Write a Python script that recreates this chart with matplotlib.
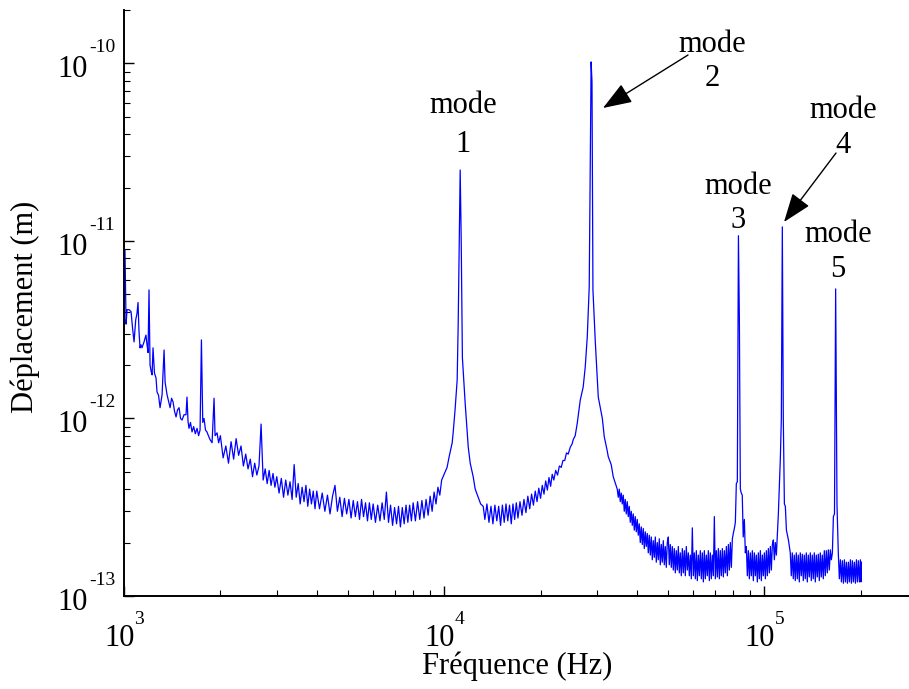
import numpy as np
import matplotlib
matplotlib.use("Agg")
import matplotlib.pyplot as plt
from matplotlib.ticker import LogLocator, NullFormatter

plt.rcParams['font.family'] = ['Liberation Serif', 'DejaVu Serif']

# ---- data (frequency in Hz, displacement in pm) ----
freq_low = [1000, 1007, 1015, 1022, 1037, 1052, 1064, 1075, 1088, 1098,
            1106, 1114, 1122, 1130, 1138, 1155, 1171, 1180, 1189, 1197,
            1206, 1215, 1224, 1232, 1245, 1259, 1268, 1282, 1296, 1315,
            1334, 1344, 1363, 1378, 1393, 1408, 1423, 1438, 1454, 1470,
            1486, 1502, 1518, 1540, 1562, 1573, 1585, 1596, 1613, 1631,
            1650, 1670, 1691, 1710, 1728, 1745, 1762, 1778, 1797, 1816,
            1830, 1857, 1884, 1911, 1925, 1953, 1975]
disp_low = [3.6, 8.9, 3.4, 4.1, 4.1, 4.0, 3.2, 2.7, 3.6, 3.9,
            4.5, 3.1, 2.5, 2.6, 2.5, 2.7, 2.95, 2.6, 2.35, 5.3,
            2.0, 1.85, 1.76, 2.5, 1.8, 1.69, 1.41, 1.35, 1.15, 1.36,
            2.43, 1.6, 1.36, 1.25, 1.15, 1.3, 1.24, 1.1, 1.02, 1.12,
            1.15, 1.0, 0.98, 1.05, 1.05, 1.32, 0.96, 0.88, 0.95, 0.84,
            0.90, 0.82, 0.88, 0.80, 0.86, 2.77, 0.95, 1.0, 0.86, 0.84,
            0.81, 0.76, 0.73, 1.3, 0.80, 0.83, 0.73]

freq_2k = [2000, 2040, 2080, 2120, 2160, 2200, 2240, 2280, 2320, 2360,
           2400, 2440, 2480, 2520, 2560, 2600, 2640, 2680, 2720, 2760,
           2800, 2840, 2880, 2920, 2960]
disp_2k = [0.80, 0.60, 0.70, 0.56, 0.74, 0.59, 0.77, 0.62, 0.70, 0.54,
           0.63, 0.52, 0.59, 0.47, 0.56, 0.48, 0.54, 0.93, 0.45, 0.52,
           0.43, 0.51, 0.42, 0.49, 0.41]

freq_3k = [3000, 3050, 3100, 3150, 3200, 3250, 3300, 3350, 3400, 3450,
           3500, 3550, 3600, 3650, 3700, 3750, 3800, 3850, 3900, 3950]
disp_3k = [0.47, 0.38, 0.46, 0.36, 0.45, 0.37, 0.44, 0.35, 0.55, 0.36,
           0.43, 0.33, 0.41, 0.34, 0.42, 0.32, 0.40, 0.33, 0.39, 0.31]

freq_4k = [4000, 4080, 4160, 4240, 4320, 4400, 4480, 4560, 4640, 4720,
           4800, 4880, 4960, 5040, 5120, 5200, 5280, 5360, 5440, 5520,
           5600, 5680, 5760, 5840, 5920]
disp_4k = [0.39, 0.31, 0.38, 0.30, 0.37, 0.29, 0.365, 0.42, 0.30, 0.36,
           0.28, 0.355, 0.29, 0.35, 0.275, 0.345, 0.28, 0.34, 0.27, 0.35,
           0.28, 0.335, 0.265, 0.335, 0.27]

freq_6k = [6000, 6100, 6200, 6300, 6400, 6500, 6600, 6700, 6800, 6900,
           7000, 7100, 7200, 7300, 7400, 7500, 7600, 7700, 7800, 7900]
disp_6k = [0.33, 0.26, 0.325, 0.265, 0.335, 0.27, 0.385, 0.26, 0.325, 0.25,
           0.315, 0.255, 0.32, 0.245, 0.315, 0.255, 0.325, 0.26, 0.325, 0.265]

freq_8k = [8000, 8130, 8260, 8390, 8520, 8650, 8780, 8910, 9040, 9170,
           9300, 9430, 9560, 9690, 9820]
disp_8k = [0.335, 0.265, 0.34, 0.27, 0.345, 0.275, 0.35, 0.285, 0.365, 0.30,
           0.385, 0.33, 0.41, 0.37, 0.45]

freq_mode1 = [10210, 10366, 10593, 10666, 10815, 10980, 11060, 11220, 11300,
              11400, 11630, 11890, 12060, 12320, 12500, 12770, 13000, 13240]
disp_mode1 = [0.53, 0.61, 0.73, 0.83, 1.12, 1.65, 3.4, 25.1, 10.5,
              2.2, 1.22, 0.69, 0.56, 0.47, 0.40, 0.36, 0.33, 0.32]

freq_gap = [13400, 13600, 13800, 14000, 14200, 14400, 14600, 14800, 15000, 15200,
            15400, 15600, 15800, 16000, 16200, 16400, 16600, 16800,
            17000, 17250, 17500, 17750, 18000, 18250, 18500, 18750, 19000, 19250,
            19500, 19750, 20000, 20250, 20500, 20750, 21000, 21250, 21500, 21750,
            22000, 22300, 22600, 22900, 23200, 23500, 23800, 24100, 24400, 24770,
            25100, 25300, 25660, 26040, 26610, 27170, 27580, 27990]
disp_gap = [0.27, 0.33, 0.26, 0.32, 0.255, 0.325, 0.265, 0.32, 0.25, 0.325,
            0.26, 0.33, 0.265, 0.325, 0.255, 0.33, 0.27, 0.335,
            0.275, 0.34, 0.285, 0.35, 0.295, 0.365, 0.31, 0.375, 0.325, 0.39,
            0.34, 0.405, 0.355, 0.42, 0.375, 0.445, 0.395, 0.465, 0.415, 0.485,
            0.45, 0.51, 0.48, 0.54, 0.53, 0.58, 0.58, 0.64, 0.63, 0.69,
            0.72, 0.76, 0.80, 0.94, 1.27, 1.5, 1.95, 2.9]

freq_mode2 = [28380, 28770, 28950, 29150, 29650, 30000, 30290, 31190, 31620,
              32290, 32540, 33240, 33730, 34720]
disp_mode2 = [5.5, 102, 79, 5.3, 2.7, 1.8, 1.32, 1.0, 0.79,
              0.66, 0.61, 0.55, 0.47, 0.40]

freq_hf1 = [34972, 35223, 35479, 35734, 35993, 36252, 36515, 36777, 37044, 37311,
            37582, 37852, 38127, 38401, 38680, 38958, 39241, 39523, 39810, 40096,
            40387, 40677, 40972, 41267, 41566, 41865, 42169, 42472, 42780, 43088,
            43401, 43713, 44030, 44347, 44669, 44990, 45316, 45642, 45973, 46304,
            46640, 46975, 47316, 47656, 48002, 48347, 48698, 49048, 49404, 49760,
            50120, 50481, 50847, 51213, 51585, 51956, 52333, 52709, 53092, 53474,
            53862, 54249, 54643, 55036, 55435, 55834, 56239, 56643, 57054, 57465,
            57882, 58298, 58721, 59143, 59572, 60001, 60436, 60871, 61313, 61754,
            62202, 62649, 63104, 63558, 64019, 64479, 64947, 65414, 65889, 66363,
            66844, 67325, 67813, 68301, 68796, 69291, 69794, 70296, 70806, 71315,
            71832, 72349, 72874, 73398, 73931, 74463, 75003, 75542, 76090, 76638,
            77194, 77749, 78313, 78876, 79448, 80020, 80600, 81180]
disp_hf1 = [0.36, 0.40, 0.34, 0.38, 0.33, 0.37, 0.30, 0.35, 0.29, 0.34,
            0.28, 0.32, 0.26, 0.30, 0.25, 0.29, 0.235, 0.28, 0.23, 0.27,
            0.22, 0.255, 0.20, 0.245, 0.195, 0.24, 0.185, 0.23, 0.19, 0.225,
            0.175, 0.22, 0.17, 0.215, 0.16, 0.205, 0.165, 0.215, 0.155, 0.20,
            0.16, 0.21, 0.15, 0.195, 0.155, 0.205, 0.15, 0.19, 0.145, 0.20,
            0.215, 0.15, 0.195, 0.145, 0.19, 0.14, 0.185, 0.135, 0.18, 0.14,
            0.19, 0.135, 0.175, 0.13, 0.185, 0.135, 0.18, 0.13, 0.19, 0.14,
            0.175, 0.13, 0.17, 0.125, 0.242, 0.13, 0.175, 0.125, 0.18, 0.122,
            0.17, 0.13, 0.18, 0.125, 0.175, 0.12, 0.18, 0.125, 0.17, 0.13,
            0.18, 0.122, 0.175, 0.125, 0.17, 0.13, 0.28, 0.125, 0.18, 0.128,
            0.185, 0.125, 0.18, 0.13, 0.185, 0.128, 0.18, 0.135, 0.19, 0.13,
            0.195, 0.14, 0.20, 0.145, 0.21, 0.226, 0.24, 0.26]

freq_mode3 = [81750, 82340, 82990, 83560, 84140, 84720, 85310, 85900, 86600, 87220]
disp_mode3 = [0.43, 0.44, 10.7, 3.6, 0.40, 0.38, 0.37, 0.215, 0.27, 0.175]

freq_hf2 = [87852, 88485, 89126, 89768, 90419, 91070, 91730, 92390, 93060, 93730,
            94409, 95089, 95778, 96468, 97167, 97867, 98576, 99286, 100006, 100726,
            101456, 102186, 102927, 103668, 104419, 105171, 105933, 106696, 107469,
            108243, 109028, 109813]
disp_hf2 = [0.19, 0.13, 0.18, 0.125, 0.175, 0.13, 0.18, 0.122, 0.175, 0.13,
            0.17, 0.12, 0.175, 0.125, 0.18, 0.122, 0.17, 0.13, 0.175, 0.125,
            0.18, 0.13, 0.185, 0.135, 0.19, 0.14, 0.195, 0.207, 0.16,
            0.20, 0.17, 0.22]

freq_mode4 = [110600, 112200, 113000, 113800, 114600, 115500, 116300, 117200, 118900, 120500]
disp_mode4 = [0.29, 0.60, 1.0, 12.0, 1.0, 0.33, 0.32, 0.235, 0.207, 0.175]

freq_hf3 = [121374, 122247, 123134, 124020, 124919, 125818, 126730, 127642, 128568, 129493,
            130432, 131371, 132324, 133276, 134242, 135208, 136189, 137169, 138164, 139158,
            140167, 141175, 142199, 143222, 144261, 145299, 146353, 147406, 148475, 149543,
            150627, 151711, 152811, 153911, 155027, 156143, 157275, 158407, 159556, 160704,
            161900, 163100]
disp_hf3 = [0.13, 0.175, 0.125, 0.17, 0.122, 0.175, 0.125, 0.17, 0.12, 0.175,
            0.13, 0.172, 0.122, 0.17, 0.125, 0.175, 0.12, 0.17, 0.128, 0.175,
            0.122, 0.17, 0.125, 0.175, 0.12, 0.17, 0.128, 0.172, 0.122, 0.175,
            0.128, 0.17, 0.125, 0.18, 0.13, 0.18, 0.135, 0.182, 0.14, 0.182,
            0.16, 0.175]

freq_mode5 = [164300, 165600, 167000, 168600, 170200]
disp_mode5 = [0.28, 0.29, 5.37, 0.33, 0.175]

freq_tail = [171500, 172800, 174053, 175306, 176577, 177848, 179138, 180427, 181735,
             183043, 184370, 185697, 187044, 188390, 189756, 191122, 192508, 193893,
             195299, 196704, 198131, 199557, 200280, 201000]
disp_tail = [0.125, 0.16, 0.12, 0.158, 0.118, 0.16, 0.12, 0.155, 0.118,
             0.155, 0.12, 0.16, 0.118, 0.158, 0.12, 0.155, 0.118, 0.16,
             0.12, 0.158, 0.12, 0.16, 0.12, 0.155]

x_exponents = [3, 4, 5]
y_exponents = [-13, -12, -11, -10]
mode_names = ["1", "2", "3", "4", "5"]

freq = np.concatenate([freq_low, freq_2k, freq_3k, freq_4k, freq_6k, freq_8k,
                       freq_mode1, freq_gap, freq_mode2, freq_hf1, freq_mode3,
                       freq_hf2, freq_mode4, freq_hf3, freq_mode5,
                       freq_tail]).astype(float)
disp = np.concatenate([disp_low, disp_2k, disp_3k, disp_4k, disp_6k, disp_8k,
                       disp_mode1, disp_gap, disp_mode2, disp_hf1, disp_mode3,
                       disp_hf2, disp_mode4, disp_hf3, disp_mode5,
                       disp_tail]) * 1e-12   # pm -> m

W, H = 909, 689
fig = plt.figure(figsize=(W / 100, H / 100), dpi=100)
ax = fig.add_axes([124 / W, (H - 596) / H, (W - 124) / W, (596 - 10) / H])
ax.loglog(freq, disp, color='#0000ff', lw=0.9)
ax.set_xlim(1e3, 2.83e5)
ax.set_ylim(1e-13, 2e-10)

for s in ['top', 'right']:
    ax.spines[s].set_visible(False)
for s in ['left', 'bottom']:
    ax.spines[s].set_linewidth(1.4)
ax.xaxis.set_major_locator(LogLocator(base=10, numticks=10))
ax.xaxis.set_minor_locator(LogLocator(base=10, subs=np.arange(2, 10), numticks=20))
ax.yaxis.set_major_locator(LogLocator(base=10, numticks=10))
ax.yaxis.set_minor_locator(LogLocator(base=10, subs=np.arange(2, 10), numticks=20))
for axis in (ax.xaxis, ax.yaxis):
    axis.set_major_formatter(NullFormatter())
    axis.set_minor_formatter(NullFormatter())
ax.tick_params(which='both', direction='in', top=False, right=False)
ax.tick_params(which='major', length=7, width=1.0)
ax.tick_params(which='minor', length=4, width=0.8)

FS = 22
EFS = 14
for e in x_exponents:
    ax.annotate('10', xy=(10.0 ** e, 0), xycoords=('data', 'axes fraction'),
                xytext=(10.5, -49.6), textcoords='offset pixels',
                ha='right', va='baseline', fontsize=FS, annotation_clip=False)
    ax.annotate(str(e), xy=(10.0 ** e, 0), xycoords=('data', 'axes fraction'),
                xytext=(10.5, -27.8), textcoords='offset pixels',
                ha='left', va='baseline', fontsize=EFS, annotation_clip=False)
for e in y_exponents:
    ax.annotate('10', xy=(0, 10.0 ** e), xycoords=('axes fraction', 'data'),
                xytext=(-36, -13.7), textcoords='offset pixels',
                ha='right', va='baseline', fontsize=FS, annotation_clip=False)
    ax.annotate('-' + str(-e), xy=(0, 10.0 ** e), xycoords=('axes fraction', 'data'),
                xytext=(-35, 11), textcoords='offset pixels',
                ha='left', va='baseline', fontsize=EFS, annotation_clip=False)

fig.text(517 / W, 1 - 666 / H, 'Fréquence (Hz)', ha='center', va='center', fontsize=FS)
fig.text(25 / W, 1 - 307 / H, 'Déplacement (m)', ha='center', va='center',
         rotation=90, fontsize=FS)

label_pos = [(463, 113, 152), (712, 52, 86), (738, 194, 228), (843, 118, 153), (838, 242, 277)]
for name, (px, yb1, yb2) in zip(mode_names, label_pos):
    fig.text(px / W, 1 - yb1 / H, 'mode', ha='center', va='baseline', fontsize=FS)
    fig.text(px / W, 1 - yb2 / H, name, ha='center', va='baseline', fontsize=FS)

arrows = [((688, H - 55), (603, H - 108)), ((836, H - 153), (784, H - 222))]
for tail, tip in arrows:
    ax.annotate('', xy=tip, xytext=tail, xycoords='figure pixels',
                textcoords='figure pixels',
                arrowprops=dict(arrowstyle='-|>,head_length=0.9,head_width=0.33',
                                color='black', lw=1.0, shrinkA=0, shrinkB=0,
                                mutation_scale=20))

fig.savefig('out.png', dpi=100)
